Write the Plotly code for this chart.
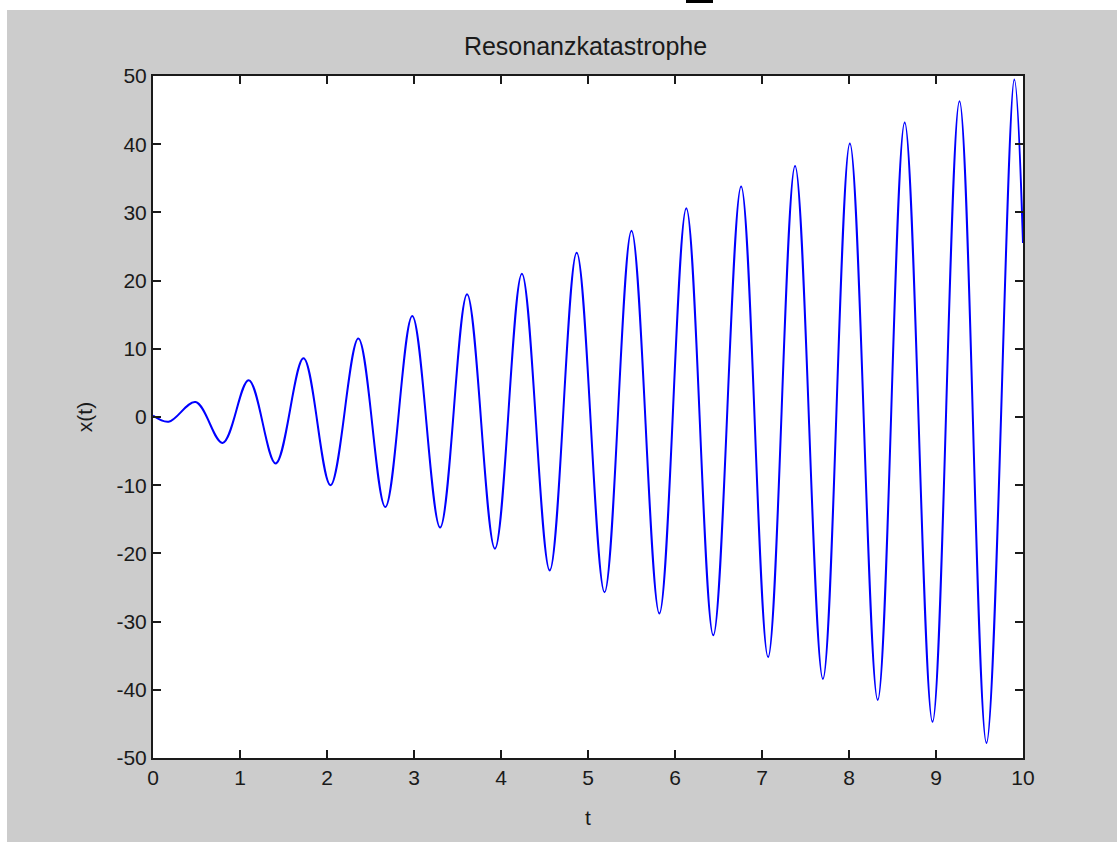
import plotly.graph_objects as go

# Peaks and troughs of the response x(t)
t_extrema = [0.00, 0.18, 0.49, 0.80, 1.10, 1.41, 1.73, 2.04, 2.36, 2.67, 2.98,
             3.30, 3.61, 3.93, 4.24, 4.56, 4.87, 5.19, 5.50, 5.82, 6.13,
             6.44, 6.76, 7.07, 7.38, 7.70, 8.01, 8.33, 8.64, 8.96, 9.27,
             9.58, 9.90, 10.00]
x_extrema = [0.2, -0.7, 2.2, -3.8, 5.4, -6.8, 8.6, -10.0, 11.5, -13.2, 14.8,
             -16.2, 18.0, -19.3, 21.0, -22.5, 24.1, -25.7, 27.3, -28.8, 30.6,
             -32.0, 33.8, -35.2, 36.8, -38.4, 40.1, -41.5, 43.2, -44.7, 46.3,
             -47.8, 49.5, 25.5]

x_ticks = [0, 1, 2, 3, 4, 5, 6, 7, 8, 9, 10]
x_tick_text = ["0", "1", "2", "3", "4", "5", "6", "7", "8", "9", "10"]
y_ticks = [-50, -40, -30, -20, -10, 0, 10, 20, 30, 40, 50]
y_tick_text = ["-50", "-40", "-30", "-20", "-10", "0", "10", "20", "30", "40", "50"]

FONT = "Liberation Sans, Arial, sans-serif"
INK = "#1a1a1a"
W, H = 1117, 842
L, R, T, B = 153, 94, 76, 84

fig = go.Figure()
# spline through the extrema: horizontal tangents at each peak give a
# smooth half-wave between neighbouring extrema
fig.add_trace(go.Scatter(
    x=t_extrema, y=x_extrema, mode="lines",
    line=dict(color="#0000ff", width=2, shape="spline", smoothing=1.0),
    hoverinfo="skip", showlegend=False,
))

axis_common = dict(
    showgrid=False, zeroline=False,
    showline=True, linecolor=INK, linewidth=2, mirror="ticks",
    ticks="inside", ticklen=8, tickwidth=2, tickcolor=INK,
    tickfont=dict(family=FONT, size=21, color=INK),
)

fig.update_xaxes(range=[0, 10], tickvals=x_ticks, ticktext=x_tick_text,
                 title=dict(text="t", font=dict(family=FONT, size=21, color=INK),
                            standoff=22),
                 **axis_common)
fig.update_yaxes(range=[-50, 50], tickvals=y_ticks, ticktext=y_tick_text,
                 title=dict(text="x(t)", font=dict(family=FONT, size=21, color=INK),
                            standoff=18),
                 **axis_common)


def px_x(p):
    return (p - L) / (W - L - R)


def px_y(p):
    return (H - B - p) / (H - T - B)


fig.update_layout(
    width=W, height=H,
    margin=dict(l=L, r=R, t=T, b=B),
    paper_bgcolor="#cccccc", plot_bgcolor="#ffffff",
    title=dict(text="Resonanzkatastrophe", x=(458 + 713) / 2 / W, xanchor="center",
               y=1 - 46 / H, yanchor="middle",
               font=dict(family=FONT, size=25, color=INK)),
    shapes=[
        # white window strip along the top and left edges
        dict(type="rect", xref="paper", yref="paper", layer="above",
             x0=px_x(0), x1=px_x(W), y0=px_y(10), y1=px_y(0),
             fillcolor="#ffffff", line=dict(width=0)),
        dict(type="rect", xref="paper", yref="paper", layer="above",
             x0=px_x(0), x1=px_x(7), y0=px_y(H), y1=px_y(0),
             fillcolor="#ffffff", line=dict(width=0)),
        dict(type="rect", xref="paper", yref="paper", layer="above",
             x0=px_x(686), x1=px_x(713), y0=px_y(3), y1=px_y(0),
             fillcolor="#000000", line=dict(width=0)),
    ],
)

fig.write_html("out.html")
